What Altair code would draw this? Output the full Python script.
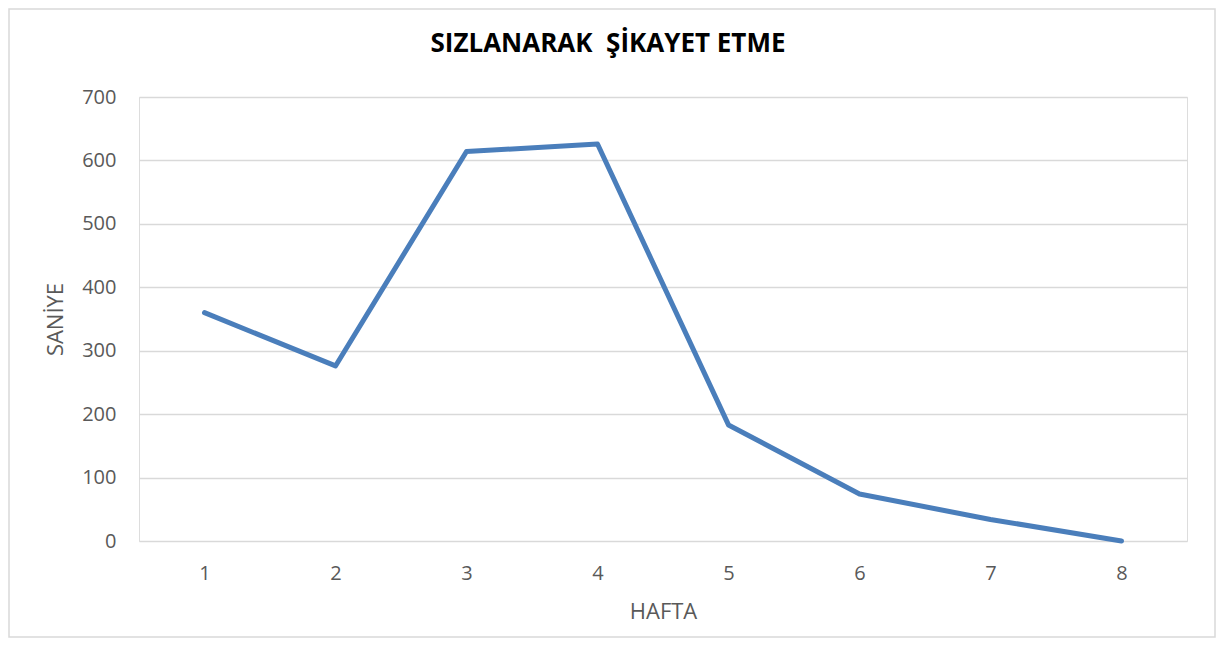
import altair as alt
import pandas as pd

weeks = ["1", "2", "3", "4", "5", "6", "7", "8"]
seconds = [360, 276, 614, 626, 183, 74, 34, 0]
y_ticks = [0, 100, 200, 300, 400, 500, 600, 700]

df = pd.DataFrame({"HAFTA": weeks, "SANİYE": seconds})

W, H = 1048, 444

border = alt.Chart(pd.DataFrame({"a": [0]})).mark_rect(
    fill=None, stroke="#d9d9d9", strokeWidth=1.5
).encode(
    x=alt.value(-130), x2=alt.value(1076),
    y=alt.value(-88), y2=alt.value(540),
)

line = alt.Chart(df).mark_line(
    color="#4a7ebb", strokeWidth=5, strokeCap="round", strokeJoin="round"
).encode(
    x=alt.X("HAFTA:O", sort=weeks,
            scale=alt.Scale(type="point", padding=0.5),
            axis=alt.Axis(title="HAFTA", labelAngle=0, domain=False, ticks=False,
                          tickSize=0, labelPadding=22, titlePadding=18,
                          labelFont="Open Sans", labelFontSize=20, labelColor="#595959",
                          titleFont="Open Sans", titleFontSize=22, titleColor="#595959",
                          titleFontWeight="normal", grid=False)),
    y=alt.Y("SANİYE:Q",
            scale=alt.Scale(domain=[0, 700], nice=False),
            axis=alt.Axis(title="SANİYE", values=y_ticks, domain=False, ticks=False,
                          tickSize=0, labelPadding=23, titlePadding=14,
                          labelFont="Open Sans", labelFontSize=20, labelColor="#595959",
                          titleFont="Open Sans", titleFontSize=22, titleColor="#595959",
                          titleFontWeight="normal",
                          grid=True, gridColor="#d9d9d9", gridWidth=1.5)),
)

chart = alt.layer(border, line).properties(
    width=W, height=H,
    autosize=alt.AutoSizeParams(type="none"),
    padding={"left": 131, "top": 89, "right": 32, "bottom": 100},
    title=alt.TitleParams(
        "SIZLANARAK\u00a0 ŞİKAYET ETME", anchor="middle", frame="group", dx=-55,
        baseline="alphabetic", offset=0, dy=70,
        font="Open Sans", fontSize=26, fontWeight="bold", color="#000000",
    ),
).configure_view(stroke=None).configure(background="white")

chart.save("out.html", embed_options={"renderer": "svg", "actions": False})
